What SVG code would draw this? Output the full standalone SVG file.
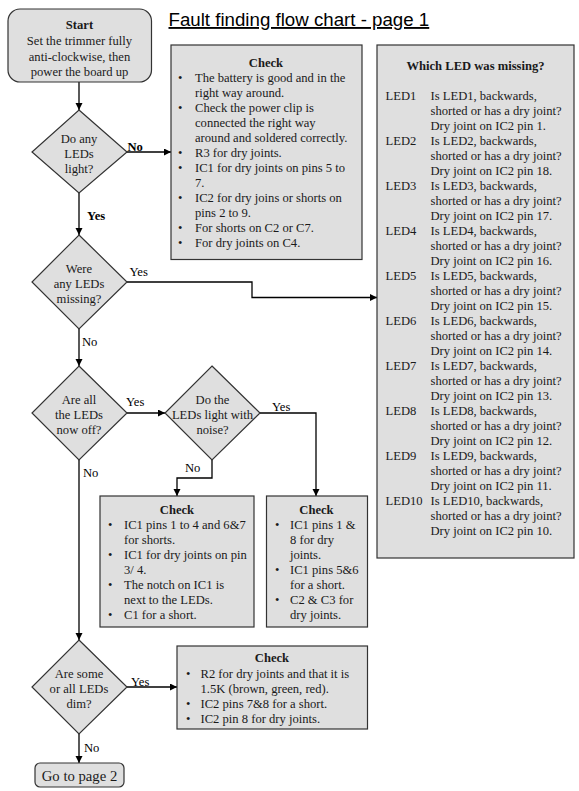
<svg xmlns="http://www.w3.org/2000/svg" width="579" height="791" viewBox="0 0 579 791">
<style>
.box{fill:#dfdfdf;stroke:#333;stroke-width:1.2}
.t{font-family:"Liberation Serif","Times New Roman",serif;font-size:12.6px;fill:#1a1a1a}
.c{text-anchor:middle}
.b{font-weight:bold}
.lbl{font-family:"Liberation Serif","Times New Roman",serif;font-size:12.6px;fill:#000}
.conn{fill:none;stroke:#000;stroke-width:1.3}
</style>
<defs>
<marker id="ah" markerUnits="userSpaceOnUse" markerWidth="8" markerHeight="8" refX="7" refY="3.5" orient="auto">
<path d="M0,0 L7,3.5 L0,7 z" fill="#000"/>
</marker>
</defs>
<rect width="579" height="791" fill="#fff"/>

<g id="title">
<text x="168.5" y="26" font-family="'Liberation Sans',Arial,sans-serif" font-size="18.7" fill="#000" text-decoration="underline">Fault finding flow chart - page 1</text>
</g>

<g id="connectors">
<path class="conn" d="M79 82 V110" marker-end="url(#ah)"/>
<path class="conn" d="M127 152 H171" marker-end="url(#ah)"/>
<path class="conn" d="M79 193 V235" marker-end="url(#ah)"/>
<path class="conn" d="M127 282 H252 V297.5 H377" marker-end="url(#ah)"/>
<path class="conn" d="M79 329 V366" marker-end="url(#ah)"/>
<path class="conn" d="M127 413 H165" marker-end="url(#ah)"/>
<path class="conn" d="M260 413 H316 V496" marker-end="url(#ah)"/>
<path class="conn" d="M212 460 V478 H177 V496" marker-end="url(#ah)"/>
<path class="conn" d="M79 460 V640" marker-end="url(#ah)"/>
<path class="conn" d="M127 687 H177" marker-end="url(#ah)"/>
<path class="conn" d="M79 734 V763" marker-end="url(#ah)"/>
<text class="lbl b" x="127.5" y="150.5">No</text>
<text class="lbl b" x="87" y="219.5">Yes</text>
<text class="lbl" x="129.5" y="275.5">Yes</text>
<text class="lbl" x="82" y="345.5">No</text>
<text class="lbl" x="126" y="406">Yes</text>
<text class="lbl" x="272" y="411">Yes</text>
<text class="lbl" x="185" y="472">No</text>
<text class="lbl" x="83" y="477">No</text>
<text class="lbl" x="131" y="686">Yes</text>
<text class="lbl" x="84" y="751.5">No</text>
</g>

<g id="start">
<rect class="box" x="8" y="9" width="143.5" height="73" rx="12"/>
<text class="t c b" x="79.5" y="29">Start</text>
<text class="t c" x="79.5" y="45">Set the trimmer fully</text>
<text class="t c" x="79.5" y="60.5">anti-clockwise, then</text>
<text class="t c" x="79.5" y="76">power the board up</text>
</g>

<g id="d1">
<polygon class="box" points="79,110 127,152 79,193 32,152"/>
<text class="t c" x="79" y="142.5">Do any</text>
<text class="t c" x="79" y="157.5">LEDs</text>
<text class="t c" x="79" y="172.5">light?</text>
</g>

<g id="check1">
<rect class="box" x="171" y="45" width="191" height="214.5"/>
<text class="t c b" x="266" y="67">Check</text>
<g class="t">
<text x="178" y="82">•</text>
<text x="178" y="112">•</text>
<text x="178" y="157">•</text>
<text x="178" y="172">•</text>
<text x="178" y="202">•</text>
<text x="178" y="232">•</text>
<text x="178" y="247">•</text>
<text x="195" y="82">The battery is good and in the</text>
<text x="195" y="97">right way around.</text>
<text x="195" y="112">Check the power clip is</text>
<text x="195" y="127">connected the right way</text>
<text x="195" y="142">around and soldered correctly.</text>
<text x="195" y="157">R3 for dry joints.</text>
<text x="195" y="172">IC1 for dry joints on pins 5 to</text>
<text x="195" y="187">7.</text>
<text x="195" y="202">IC2 for dry joins or shorts on</text>
<text x="195" y="217">pins 2 to 9.</text>
<text x="195" y="232">For shorts on C2 or C7.</text>
<text x="195" y="247">For dry joints on C4.</text>
</g>
</g>

<g id="d2">
<polygon class="box" points="79,235 127,282 79,329 32,282"/>
<text class="t c" x="79" y="272.5">Were</text>
<text class="t c" x="79" y="287.5">any LEDs</text>
<text class="t c" x="79" y="302.5">missing?</text>
</g>

<g id="which">
<rect class="box" x="377" y="45" width="197" height="513"/>
<text class="t c b" x="475.5" y="70">Which LED was missing?</text>
<g class="t">
<text x="385.5" y="100">LED1</text>
<text x="430.5" y="100">Is LED1, backwards,</text>
<text x="430.5" y="115">shorted or has a dry joint?</text>
<text x="430.5" y="130">Dry joint on IC2 pin 1.</text>
<text x="385.5" y="145">LED2</text>
<text x="430.5" y="145">Is LED2, backwards,</text>
<text x="430.5" y="160">shorted or has a dry joint?</text>
<text x="430.5" y="175">Dry joint on IC2 pin 18.</text>
<text x="385.5" y="190">LED3</text>
<text x="430.5" y="190">Is LED3, backwards,</text>
<text x="430.5" y="205">shorted or has a dry joint?</text>
<text x="430.5" y="220">Dry joint on IC2 pin 17.</text>
<text x="385.5" y="235">LED4</text>
<text x="430.5" y="235">Is LED4, backwards,</text>
<text x="430.5" y="250">shorted or has a dry joint?</text>
<text x="430.5" y="265">Dry joint on IC2 pin 16.</text>
<text x="385.5" y="280">LED5</text>
<text x="430.5" y="280">Is LED5, backwards,</text>
<text x="430.5" y="295">shorted or has a dry joint?</text>
<text x="430.5" y="310">Dry joint on IC2 pin 15.</text>
<text x="385.5" y="325">LED6</text>
<text x="430.5" y="325">Is LED6, backwards,</text>
<text x="430.5" y="340">shorted or has a dry joint?</text>
<text x="430.5" y="355">Dry joint on IC2 pin 14.</text>
<text x="385.5" y="370">LED7</text>
<text x="430.5" y="370">Is LED7, backwards,</text>
<text x="430.5" y="385">shorted or has a dry joint?</text>
<text x="430.5" y="400">Dry joint on IC2 pin 13.</text>
<text x="385.5" y="415">LED8</text>
<text x="430.5" y="415">Is LED8, backwards,</text>
<text x="430.5" y="430">shorted or has a dry joint?</text>
<text x="430.5" y="445">Dry joint on IC2 pin 12.</text>
<text x="385.5" y="460">LED9</text>
<text x="430.5" y="460">Is LED9, backwards,</text>
<text x="430.5" y="475">shorted or has a dry joint?</text>
<text x="430.5" y="490">Dry joint on IC2 pin 11.</text>
<text x="385.5" y="505">LED10</text>
<text x="430.5" y="505">Is LED10, backwards,</text>
<text x="430.5" y="520">shorted or has a dry joint?</text>
<text x="430.5" y="535">Dry joint on IC2 pin 10.</text>
</g>
</g>

<g id="d3">
<polygon class="box" points="79,366 127,413 79,460 32,413"/>
<text class="t c" x="79" y="403.5">Are all</text>
<text class="t c" x="79" y="418.5">the LEDs</text>
<text class="t c" x="79" y="433.5">now off?</text>
</g>

<g id="d4">
<polygon class="box" points="212,366 260,413 212,460 165,413"/>
<text class="t c" x="212.5" y="403.5">Do the</text>
<text class="t c" x="212.5" y="418.5">LEDs light with</text>
<text class="t c" x="212.5" y="433.5">noise?</text>
</g>

<g id="check2">
<rect class="box" x="100" y="496" width="154" height="131"/>
<text class="t c b" x="177" y="513.5">Check</text>
<g class="t">
<text x="108" y="528.5">•</text>
<text x="108" y="558.5">•</text>
<text x="108" y="588.5">•</text>
<text x="108" y="618.5">•</text>
<text x="124" y="528.5">IC1 pins 1 to 4 and 6&amp;7</text>
<text x="124" y="543.5">for shorts.</text>
<text x="124" y="558.5">IC1 for dry joints on pin</text>
<text x="124" y="573.5">3/ 4.</text>
<text x="124" y="588.5">The notch on IC1 is</text>
<text x="124" y="603.5">next to the LEDs.</text>
<text x="124" y="618.5">C1 for a short.</text>
</g>
</g>

<g id="check3">
<rect class="box" x="266.5" y="496" width="101" height="131"/>
<text class="t c b" x="316.5" y="513.5">Check</text>
<g class="t">
<text x="275" y="528.5">•</text>
<text x="275" y="573.5">•</text>
<text x="275" y="603.5">•</text>
<text x="290" y="528.5">IC1 pins 1 &amp;</text>
<text x="290" y="543.5">8 for dry</text>
<text x="290" y="558.5">joints.</text>
<text x="290" y="573.5">IC1 pins 5&amp;6</text>
<text x="290" y="588.5">for a short.</text>
<text x="290" y="603.5">C2 &amp; C3 for</text>
<text x="290" y="618.5">dry joints.</text>
</g>
</g>

<g id="d5">
<polygon class="box" points="79,640 127,687 79,734 32,687"/>
<text class="t c" x="79" y="677.5">Are some</text>
<text class="t c" x="79" y="692.5">or all LEDs</text>
<text class="t c" x="79" y="707.5">dim?</text>
</g>

<g id="check4">
<rect class="box" x="177" y="646" width="190.5" height="83"/>
<text class="t c b" x="272" y="661.5">Check</text>
<g class="t">
<text x="186" y="677.5">•</text>
<text x="186" y="707.5">•</text>
<text x="186" y="723">•</text>
<text x="200.5" y="677.5">R2 for dry joints and that it is</text>
<text x="200.5" y="692.5">1.5K (brown, green, red).</text>
<text x="200.5" y="707.5">IC2 pins 7&amp;8 for a short.</text>
<text x="200.5" y="723">IC2 pin 8 for dry joints.</text>
</g>
</g>

<g id="page2">
<rect class="box" x="35" y="763" width="89" height="24" rx="5"/>
<text class="t c" x="79.5" y="781" style="font-size:14.7px">Go to page 2</text>
</g>
</svg>
